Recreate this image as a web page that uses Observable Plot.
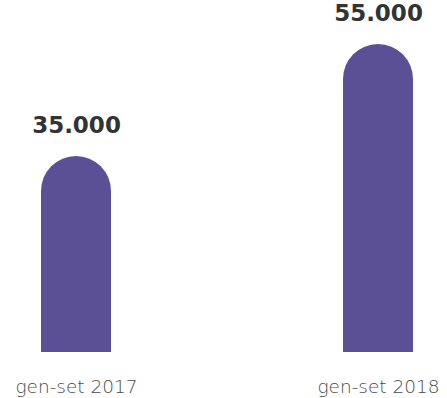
<!DOCTYPE html>
<html>
<head>
<meta charset="utf-8">
<script src="https://cdn.jsdelivr.net/npm/d3@7"></script>
<script src="https://cdn.jsdelivr.net/npm/@observablehq/plot@0.6"></script>
<style>
  html, body { margin: 0; padding: 0; background: #ffffff; }
  #chart svg { display: block; }
</style>
</head>
<body>
<div id="chart"></div>
<script>
const categories = ["gen-set 2017", "gen-set 2018"];
const values = [35000, 55000];
const valueLabels = ["35.000", "55.000"];

const data = categories.map((c, i) => ({cat: c, value: values[i], label: valueLabels[i]}));
const barColor = "#5b4f95";

const chart = Plot.plot({
  width: 447,
  height: 398,
  marginTop: 16,
  marginBottom: 46,
  marginLeft: 41,
  marginRight: 33,
  style: {background: "#ffffff", overflow: "visible"},
  x: {domain: categories, paddingInner: 0.767, paddingOuter: 0, label: null},
  y: {domain: [0, 60000], axis: null},
  marks: [
    Plot.barY(data, {x: "cat", y: "value", fill: barColor, rx: 35}),
    Plot.barY(data, {x: "cat", y: d => d.value / 2, fill: barColor}),
    Plot.text(data, {
      x: "cat", y: "value", text: "label", dy: -24, lineAnchor: "bottom",
      fontFamily: "DejaVu Sans", fontWeight: "bold", fontSize: 23, fill: "#333333"
    }),
    Plot.axisX({
      tickSize: 0, tickPadding: 27, label: null,
      fontFamily: "DejaVu Sans", fontWeight: 200, fontSize: 18.5, fill: "#4a4a4a"
    })
  ]
});
document.getElementById("chart").appendChild(chart);
</script>
</body>
</html>
